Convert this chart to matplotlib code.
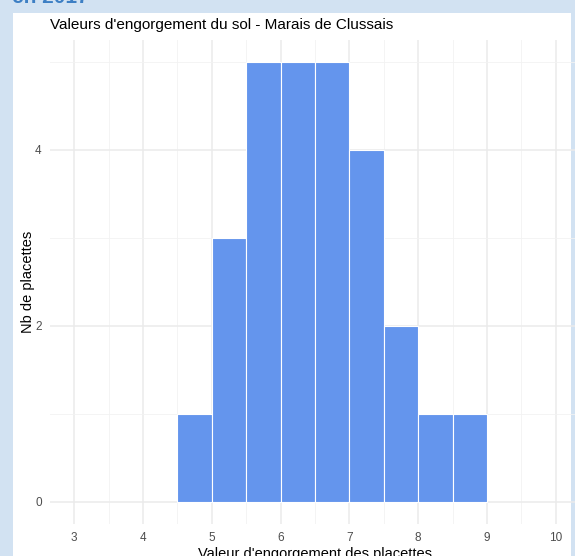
import matplotlib.pyplot as plt
from matplotlib.patches import Rectangle
from matplotlib.ticker import MultipleLocator

# histogram bins (binwidth 0.5) and counts of plots per bin
bin_left = [4.5, 5.0, 5.5, 6.0, 6.5, 7.0, 7.5, 8.0, 8.5]
counts = [1, 3, 5, 5, 5, 4, 2, 1, 1]
bin_width = 0.5

x_ticks = [3, 4, 5, 6, 7, 8, 9, 10]
y_ticks = [0, 2, 4]

plt.rcParams['font.family'] = ['Liberation Sans', 'DejaVu Sans']

W, H = 575, 556
fig = plt.figure(figsize=(W / 100, H / 100), dpi=100)
fig.patch.set_facecolor('#d2e2f2')

# white card behind the chart
fig.patches.append(Rectangle((13 / W, 0), (571 - 13) / W, (H - 13) / H,
                             transform=fig.transFigure, facecolor='white',
                             edgecolor='none', zorder=-5))

# cut-off heading of the page above the chart
fig.text(12 / W, 1 - 3 / H, "en 2017", color='#3d7fc4', fontsize=15,
         fontweight='bold', va='baseline', ha='left')

ax = fig.add_axes([50 / W, (H - 524) / H, (580 - 50) / W, (524 - 40) / H])
ax.set_facecolor('none')
ax.set_zorder(2)

ax.bar(bin_left, counts, width=bin_width, align='edge', color='#6495ED',
       edgecolor='white', linewidth=0.8, zorder=3)

ax.set_xlim(2.65, 10.35)
ax.set_ylim(-0.25, 5.25)
ax.set_xticks(x_ticks)
ax.set_yticks(y_ticks)
ax.xaxis.set_minor_locator(MultipleLocator(0.5))
ax.yaxis.set_minor_locator(MultipleLocator(1))
ax.grid(which='major', color='#ebebeb', linewidth=1.1, zorder=0)
ax.grid(which='minor', color='#f2f2f2', linewidth=0.6, zorder=0)
ax.set_axisbelow(True)

for s in ax.spines.values():
    s.set_visible(False)
ax.tick_params(which='both', length=0, labelsize=8.5, colors='#4d4d4d')
ax.tick_params(axis='x', pad=6)
ax.tick_params(axis='y', pad=6)

ax.set_title("Valeurs d'engorgement du sol - Marais de Clussais",
             loc='left', fontsize=11, color='black', pad=8, x=0.0)
ax.set_xlabel("Valeur d'engorgement des placettes", fontsize=10.5, labelpad=2)
ax.set_ylabel("Nb de placettes", fontsize=10.5)
ax.xaxis.label.set_x((315 - 50) / (580 - 50))
ax.yaxis.set_label_coords((35 - 50) / (580 - 50), 0.5)

fig.savefig('out.png', dpi=100)
